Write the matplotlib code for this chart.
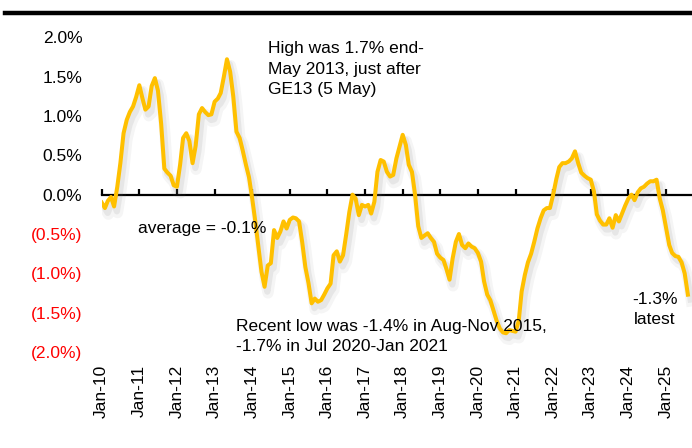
import numpy as np
import pandas as pd
import matplotlib
matplotlib.use("Agg")
import matplotlib.pyplot as plt
import matplotlib.dates as mdates
import matplotlib.patheffects as pe
from matplotlib.ticker import FixedLocator

# ---------------------------------------------------------------------
# Data (monthly, Jan 2010 - Aug 2025), values in %
# ---------------------------------------------------------------------
START = "2010-01-01"
values = [
    # 2010
    -0.10, -0.17, -0.08, -0.03, -0.15, 0.10, 0.40, 0.78, 0.95, 1.05, 1.12, 1.24,
    # 2011
    1.39, 1.22, 1.08, 1.12, 1.38, 1.48, 1.32, 0.90, 0.33, 0.28, 0.24, 0.12,
    # 2012
    0.10, 0.38, 0.72, 0.78, 0.68, 0.40, 0.62, 1.02, 1.10, 1.05, 1.01, 1.02,
    # 2013
    1.18, 1.22, 1.29, 1.50, 1.72, 1.56, 1.25, 0.80, 0.72, 0.56, 0.38, 0.22,
    # 2014
    -0.05, -0.35, -0.65, -0.98, -1.17, -0.90, -0.87, -0.45, -0.55, -0.47, -0.34, -0.43,
    # 2015
    -0.32, -0.29, -0.30, -0.34, -0.60, -0.92, -1.12, -1.38, -1.32, -1.36, -1.34, -1.27,
    # 2016
    -1.19, -1.13, -0.77, -0.72, -0.85, -0.77, -0.51, -0.22, 0.00, -0.05, -0.26, -0.13,
    # 2017
    -0.15, -0.13, -0.24, -0.09, 0.29, 0.44, 0.42, 0.29, 0.23, 0.25, 0.46, 0.61,
    # 2018
    0.76, 0.63, 0.38, 0.29, 0.00, -0.40, -0.55, -0.52, -0.49, -0.55, -0.60, -0.75,
    # 2019
    -0.80, -0.83, -0.94, -1.08, -0.81, -0.60, -0.50, -0.64, -0.68, -0.62, -0.66, -0.68,
    # 2020
    -0.74, -0.85, -1.10, -1.27, -1.34, -1.47, -1.60, -1.70, -1.75, -1.76, -1.72, -1.73,
    # 2021
    -1.74, -1.60, -1.23, -1.02, -0.86, -0.75, -0.60, -0.43, -0.30, -0.20, -0.17, -0.17,
    # 2022
    0.00, 0.20, 0.35, 0.40, 0.40, 0.42, 0.46, 0.55, 0.40, 0.28, 0.24, 0.21,
    # 2023
    0.19, 0.04, -0.25, -0.33, -0.38, -0.38, -0.30, -0.42, -0.26, -0.34, -0.24, -0.14,
    # 2024
    -0.05, 0.00, -0.07, 0.03, 0.08, 0.10, 0.14, 0.17, 0.17, 0.19, -0.05, -0.20,
    # 2025
    -0.42, -0.64, -0.74, -0.78, -0.79, -0.86, -1.00, -1.27,
]
average = -0.13

y_ticks = [2.0, 1.5, 1.0, 0.5, 0.0, -0.5, -1.0, -1.5, -2.0]
y_labels = ["2.0%", "1.5%", "1.0%", "0.5%", "0.0%", "(0.5%)", "(1.0%)", "(1.5%)", "(2.0%)"]

LINE_COLOR = "#FFC000"
NEG_COLOR = "#FF0000"
FONT = "Liberation Sans"
FS = 12.5

plt.rcParams["font.family"] = [FONT, "DejaVu Sans"]

months = pd.date_range(START, periods=len(values), freq="MS")
x = mdates.date2num(months)
year_ticks = pd.date_range("2010-01-01", "2025-01-01", freq="YS")
xt = mdates.date2num(year_ticks)
xt_labels = [d.strftime("Jan-%y") for d in year_ticks]


def dnum(s):
    return mdates.date2num(pd.Timestamp(s))


fig = plt.figure(figsize=(6.92, 4.48), dpi=100)
ax = fig.add_axes([0.147, 0.214, 0.853, 0.703])

# average (dotted grey)
ax.axhline(average, color="#A6A6A6", lw=2.4, dashes=(0, 3.4),
           dash_capstyle="round", zorder=2)

# main line with soft (two-layer) shadow
ax.plot(x, values, color=LINE_COLOR, lw=2.9, solid_joinstyle="round", zorder=3,
        path_effects=[pe.SimpleLineShadow(offset=(2.5, -4.5), shadow_color="gray",
                                          alpha=0.08, linewidth=8),
                      pe.SimpleLineShadow(offset=(2, -3.5), shadow_color="gray",
                                          alpha=0.12, linewidth=4.5),
                      pe.Normal()])

ax.set_ylim(-2.0, 2.0)
ax.set_xlim(x[0], dnum("2025-09-10"))

# y axis: labels only, negatives in red brackets
ax.yaxis.set_major_locator(FixedLocator(y_ticks))
ax.set_yticklabels(y_labels, fontsize=FS)
ax.tick_params(axis="y", length=0, pad=14)
for t, v in zip(ax.get_yticklabels(), y_ticks):
    if v < 0:
        t.set_color(NEG_COLOR)

# x axis drawn at zero with upward ticks
for s in ["left", "right", "top"]:
    ax.spines[s].set_visible(False)
ax.spines["bottom"].set_position(("data", 0))
ax.spines["bottom"].set_linewidth(1.6)
ax.set_xticks(xt)
ax.tick_params(axis="x", direction="in", length=4, width=1.6, labelbottom=False)

# tick labels at the bottom of the plot area
sec = ax.secondary_xaxis("bottom")
sec.set_xticks(xt)
sec.set_xticklabels(xt_labels, rotation=90, fontsize=FS)
sec.tick_params(length=0, pad=9)
sec.spines["bottom"].set_visible(False)

# annotations
ax.text(dnum("2014-06-01"), 1.95,
        "High was 1.7% end-\nMay 2013, just after\nGE13 (5 May)",
        fontsize=FS, ha="left", va="top", linespacing=1.45)
ax.text(dnum("2010-12-15"), -0.43, "average = -0.1%",
        fontsize=FS, ha="left", va="center")
ax.text(dnum("2013-08-01"), -1.80,
        "Recent low was -1.4% in Aug-Nov 2015,\n-1.7% in Jul 2020-Jan 2021",
        fontsize=FS, ha="left", va="center", linespacing=1.45)
ax.text(dnum("2024-09-15"), -1.46, "-1.3%\nlatest",
        fontsize=FS, ha="center", va="center", linespacing=1.45)

# heading rule at top (title cropped in source)
fig.add_artist(plt.Line2D([0.007, 1.0], [0.971, 0.971], color="black", lw=3.2,
                          transform=fig.transFigure))

fig.savefig("out.png", dpi=100)
